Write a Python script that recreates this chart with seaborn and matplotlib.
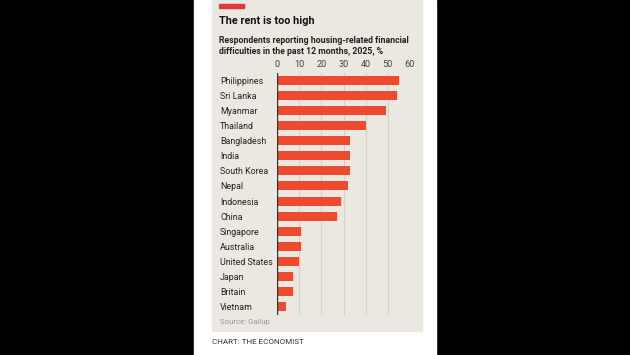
import numpy as np
import pandas as pd
import seaborn as sns
import matplotlib.pyplot as plt
from matplotlib.patches import Rectangle

countries = ["Philippines", "Sri Lanka", "Myanmar", "Thailand", "Bangladesh", "India",
             "South Korea", "Nepal", "Indonesia", "China", "Singapore", "Australia",
             "United States", "Japan", "Britain", "Vietnam"]
values = [55, 54, 49, 40, 33, 33, 33, 32, 29, 27, 11, 11, 10, 7, 7, 4]
xticks = [0, 10, 20, 30, 40, 50, 60]

df = pd.DataFrame({"country": countries, "value": values})

W, H = 630, 355
BG = "#ebe8e1"
RED = "#ee4a30"

sns.set_style("white")
plt.rcParams["font.family"] = ["Roboto", "DejaVu Sans"]

fig = plt.figure(figsize=(6.3, 3.55), dpi=100)
fig.patch.set_facecolor("black")

# white panel and beige chart box (pixel coords -> figure fraction)
def px(x0, y0, x1, y1):
    return (x0 / W, 1 - y1 / H), (x1 - x0) / W, (y1 - y0) / H

xy, w, h = px(194, 0, 436, 355)
fig.patches.append(Rectangle(xy, w, h, transform=fig.transFigure, color="white", zorder=0))
xy, w, h = px(212, 0, 422, 331)
fig.patches.append(Rectangle(xy, w, h, transform=fig.transFigure, color=BG, zorder=0))
xy, w, h = px(219, 4, 244, 8)
fig.patches.append(Rectangle(xy, w, h, transform=fig.transFigure, color="#dc3b3b", zorder=1))

# main axes
top, bottom = 72.5, 314.5
ax = fig.add_axes([277 / W, 1 - bottom / H, (410 - 277) / W, (bottom - top) / H])
ax.set_zorder(5)
ax.patch.set_alpha(0)

sns.barplot(data=df, x="value", y="country", orient="h", color=RED,
            width=0.6, saturation=1, linewidth=0, ax=ax, zorder=3)

ax.set_xlim(0, 60)
ax.set_ylim(len(countries) - 0.5, -0.5)
ax.set_xticks(xticks)
ax.set_xticklabels([str(t) for t in xticks])
ax.xaxis.tick_top()
ax.tick_params(axis="x", length=0, pad=2.5, labelsize=6.6, labelcolor="#444444")
ax.tick_params(axis="y", length=0, pad=41, labelsize=6.4, labelcolor="#222222")
for lab in ax.get_yticklabels():
    lab.set_ha("left")
ax.set_xlabel("")
ax.set_ylabel("")
for s in ax.spines.values():
    s.set_visible(False)
for t in xticks[1:]:
    ax.axvline(t, color="#d3d1ca", lw=0.8, zorder=1)
ax.axvline(0, color="#333333", lw=1.0, zorder=4)

# titles and notes
fig.text(219 / W, 1 - 21 / H, "The rent is too high", fontsize=7.8, fontweight="bold",
         color="#111111", va="center", ha="left", zorder=6)
fig.text(219 / W, 1 - 46 / H,
         "Respondents reporting housing-related financial\ndifficulties in the past 12 months, 2025, %",
         fontsize=6.3, fontweight="bold", color="#222222", va="center", ha="left",
         linespacing=1.3, zorder=6)
fig.text(220 / W, 1 - 322 / H, "Source: Gallup", fontsize=5.6, color="#9a9891",
         va="center", ha="left", zorder=6)
fig.text(212 / W, 1 - 342 / H, "CHART: THE ECONOMIST", fontsize=5.8, color="#333333",
         va="center", ha="left", zorder=6)

fig.savefig("out.png", dpi=100, facecolor=fig.get_facecolor())
